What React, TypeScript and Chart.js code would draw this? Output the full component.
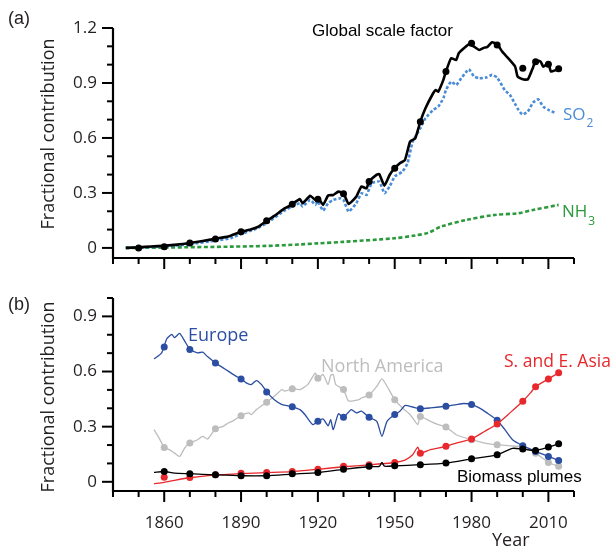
import React, { useEffect, useRef } from "react";
import { Chart, registerables } from "chart.js";

Chart.register(...registerables);

// ---------- axes ----------
const X_MIN = 1840;
const X_MAX = 2020;
const xMajorTicks = [1860, 1890, 1920, 1950, 1980, 2010];
const xMinorTicks = [1840, 1850, 1870, 1880, 1900, 1910, 1930, 1940, 1960, 1970, 1990, 2000, 2020];
const yMajorTicksA = [0, 0.3, 0.6, 0.9, 1.2];
const yMinorTicksA = [0.1, 0.2, 0.4, 0.5, 0.7, 0.8, 1.0, 1.1];
const yMajorTicksB = [0, 0.3, 0.6, 0.9];
const yMinorTicksB = [0.1, 0.2, 0.4, 0.5, 0.7, 0.8, 1.0];

// ---------- panel (a) ----------
const globalLineYears = [1845, 1850, 1855, 1860, 1865, 1870, 1875, 1880, 1885, 1890, 1894, 1897, 1900, 1903, 1907, 1909, 1910, 1913, 1914, 1917, 1919, 1920, 1922, 1924, 1926, 1928, 1930, 1932, 1935, 1937, 1939, 1940, 1943, 1944, 1946, 1948, 1950, 1952, 1954, 1956, 1958, 1960, 1962, 1965, 1966, 1967, 1969, 1970, 1972, 1974, 1975, 1977, 1979, 1981, 1983, 1985, 1986, 1988, 1990, 1992, 1994, 1997, 1998, 2000, 2002, 2004, 2005, 2007, 2008, 2010, 2011, 2013, 2014];
const globalLineValues = [0.000, 0.003, 0.008, 0.012, 0.018, 0.027, 0.038, 0.050, 0.062, 0.088, 0.102, 0.118, 0.148, 0.175, 0.216, 0.229, 0.240, 0.266, 0.244, 0.284, 0.262, 0.277, 0.235, 0.286, 0.289, 0.307, 0.298, 0.240, 0.280, 0.335, 0.325, 0.362, 0.400, 0.402, 0.340, 0.398, 0.435, 0.462, 0.480, 0.580, 0.598, 0.689, 0.762, 0.844, 0.862, 0.853, 0.917, 0.962, 1.035, 1.026, 1.062, 1.089, 1.111, 1.098, 1.080, 1.093, 1.095, 1.122, 1.111, 1.071, 1.040, 0.990, 0.935, 0.920, 0.920, 0.985, 1.022, 1.016, 0.989, 1.007, 0.962, 0.971, 0.975];

const globalDotYears = [1850, 1860, 1870, 1880, 1890, 1900, 1910, 1920, 1930, 1940, 1950, 1960, 1970, 1980, 1990, 2000, 2005, 2010, 2014];
const globalDotValues = [0.000, 0.007, 0.027, 0.049, 0.088, 0.148, 0.238, 0.265, 0.296, 0.362, 0.435, 0.689, 0.962, 1.117, 1.107, 0.980, 1.016, 1.002, 0.977];

const so2Years = [1845, 1850, 1860, 1870, 1880, 1886, 1890, 1896, 1900, 1907, 1910, 1913, 1914, 1917, 1919, 1920, 1922, 1924, 1926, 1929, 1930, 1932, 1935, 1937, 1939, 1941, 1944, 1946, 1948, 1950, 1953, 1955, 1957, 1960, 1962, 1965, 1967, 1969, 1970, 1972, 1974, 1976, 1978, 1979, 1981, 1983, 1986, 1988, 1990, 1993, 1995, 1998, 1999, 2000, 2002, 2004, 2006, 2008, 2010, 2013];
const so2Values = [0.000, 0.002, 0.008, 0.020, 0.040, 0.053, 0.076, 0.105, 0.135, 0.204, 0.226, 0.244, 0.226, 0.262, 0.235, 0.253, 0.204, 0.244, 0.262, 0.271, 0.262, 0.198, 0.244, 0.298, 0.289, 0.353, 0.362, 0.298, 0.335, 0.390, 0.416, 0.462, 0.580, 0.653, 0.708, 0.753, 0.771, 0.817, 0.862, 0.907, 0.889, 0.926, 0.962, 0.975, 0.935, 0.926, 0.931, 0.944, 0.930, 0.860, 0.835, 0.760, 0.740, 0.728, 0.744, 0.793, 0.811, 0.771, 0.753, 0.735];

const nh3Years = [1845, 1860, 1886, 1900, 1913, 1920, 1930, 1950, 1958, 1963, 1968, 1978, 1989, 1998, 2004, 2014];
const nh3Values = [0.000, 0.002, 0.007, 0.011, 0.019, 0.025, 0.033, 0.053, 0.068, 0.082, 0.116, 0.153, 0.180, 0.189, 0.207, 0.235];

// ---------- panel (b) ----------
const regionDotYears = [1860, 1870, 1880, 1890, 1900, 1910, 1920, 1930, 1940, 1950, 1960, 1970, 1980, 1990, 2000, 2005, 2010, 2014];
const europeDotValues = [0.733, 0.720, 0.647, 0.560, 0.489, 0.408, 0.329, 0.351, 0.351, 0.366, 0.398, 0.411, 0.420, 0.335, 0.196, 0.165, 0.138, 0.116];
const northAmericaDotValues = [0.187, 0.211, 0.288, 0.360, 0.433, 0.506, 0.563, 0.502, 0.472, 0.447, 0.355, 0.298, 0.229, 0.202, 0.189, 0.156, 0.105, 0.084];
const asiaDotValues = [0.025, 0.024, 0.038, 0.047, 0.051, 0.056, 0.069, 0.084, 0.093, 0.105, 0.156, 0.193, 0.233, 0.315, 0.438, 0.517, 0.560, 0.593];
const biomassDotValues = [0.056, 0.044, 0.038, 0.033, 0.033, 0.044, 0.051, 0.069, 0.084, 0.087, 0.093, 0.102, 0.125, 0.147, 0.178, 0.171, 0.189, 0.207];

const europeYears = [1856, 1859, 1861, 1863, 1864, 1866, 1868, 1870, 1873, 1875, 1877, 1880, 1883, 1885, 1888, 1890, 1892, 1894, 1896, 1898, 1900, 1903, 1906, 1908, 1910, 1913, 1915, 1918, 1920, 1922, 1924, 1925, 1926, 1928, 1930, 1933, 1935, 1937, 1940, 1943, 1945, 1947, 1950, 1952, 1954, 1957, 1960, 1964, 1970, 1974, 1977, 1980, 1983, 1986, 1990, 1993, 1996, 2000, 2003, 2010, 2014];
const europeValues = [0.669, 0.702, 0.778, 0.802, 0.784, 0.807, 0.765, 0.722, 0.702, 0.705, 0.680, 0.647, 0.620, 0.602, 0.575, 0.560, 0.538, 0.529, 0.551, 0.529, 0.489, 0.447, 0.420, 0.415, 0.408, 0.393, 0.365, 0.311, 0.329, 0.342, 0.305, 0.338, 0.284, 0.370, 0.351, 0.393, 0.375, 0.384, 0.351, 0.329, 0.247, 0.329, 0.366, 0.384, 0.415, 0.407, 0.398, 0.402, 0.411, 0.420, 0.426, 0.420, 0.402, 0.375, 0.335, 0.284, 0.229, 0.196, 0.178, 0.138, 0.116];

const northAmericaYears = [1856, 1858, 1860, 1862, 1864, 1866, 1868, 1870, 1873, 1875, 1877, 1880, 1883, 1885, 1887, 1890, 1893, 1894, 1896, 1900, 1903, 1906, 1907, 1910, 1913, 1916, 1919, 1920, 1922, 1924, 1925, 1926, 1927, 1930, 1932, 1936, 1937, 1940, 1943, 1945, 1947, 1950, 1953, 1956, 1959, 1960, 1964, 1967, 1970, 1974, 1980, 1985, 1990, 1995, 2000, 2005, 2010, 2014];
const northAmericaValues = [0.284, 0.238, 0.187, 0.175, 0.156, 0.138, 0.184, 0.211, 0.229, 0.247, 0.233, 0.288, 0.302, 0.320, 0.333, 0.360, 0.375, 0.365, 0.393, 0.433, 0.465, 0.502, 0.493, 0.506, 0.502, 0.529, 0.591, 0.560, 0.584, 0.529, 0.578, 0.584, 0.529, 0.502, 0.440, 0.447, 0.456, 0.472, 0.520, 0.560, 0.520, 0.447, 0.402, 0.366, 0.311, 0.355, 0.329, 0.311, 0.298, 0.256, 0.229, 0.211, 0.202, 0.196, 0.189, 0.156, 0.105, 0.084];

const asiaYears = [1856, 1860, 1864, 1870, 1880, 1890, 1900, 1910, 1920, 1930, 1940, 1950, 1954, 1957, 1959, 1960, 1964, 1970, 1974, 1980, 1985, 1990, 1995, 2000, 2003, 2005, 2010, 2014];
const asiaValues = [-0.010, -0.003, 0.008, 0.022, 0.036, 0.045, 0.050, 0.055, 0.068, 0.082, 0.092, 0.105, 0.118, 0.147, 0.189, 0.158, 0.175, 0.193, 0.211, 0.233, 0.274, 0.315, 0.375, 0.438, 0.484, 0.517, 0.560, 0.593];

const biomassYears = [1856, 1860, 1864, 1870, 1880, 1890, 1900, 1910, 1920, 1930, 1940, 1944, 1945, 1946, 1950, 1960, 1970, 1980, 1990, 1996, 2000, 2005, 2010, 2014];
const biomassValues = [0.051, 0.056, 0.047, 0.044, 0.038, 0.033, 0.033, 0.042, 0.050, 0.068, 0.082, 0.084, 0.105, 0.085, 0.087, 0.093, 0.102, 0.125, 0.147, 0.182, 0.178, 0.171, 0.189, 0.207];

// ---------- styling ----------
const BLACK = "#000000";
const SO2_BLUE = "#4a8cd6";
const NH3_GREEN = "#2b9a3c";
const EUROPE_BLUE = "#2b4ea2";
const NA_GREY = "#bdbdbd";
const ASIA_RED = "#e8282c";
const TEXT = "#231f20";
const MYRIAD = "'Open Sans', 'Noto Sans', sans-serif";
const ARIAL = "'Liberation Sans', Arial, sans-serif";

const pts = (xs: number[], ys: number[]) => xs.map((x, i) => ({ x, y: ys[i] }));
const fmt = (v: number) => String(Math.round(v * 10) / 10);

const lineDs = (xs: number[], ys: number[], color: string, width: number, extra: any = {}) => ({
  data: pts(xs, ys),
  borderColor: color,
  backgroundColor: color,
  borderWidth: width,
  pointRadius: 0,
  fill: false,
  ...extra,
});
const dotDs = (xs: number[], ys: number[], color: string, r: number) => ({
  data: pts(xs, ys),
  showLine: false,
  borderColor: color,
  backgroundColor: color,
  pointBackgroundColor: color,
  pointBorderWidth: 0,
  pointRadius: r,
  pointHoverRadius: r,
});

const axesPlugin = {
  id: "manualAxes",
  afterDraw(chart: any, _args: any, opts: any) {
    const { ctx, chartArea, scales } = chart;
    const xs = scales.x;
    const ys = scales.y;
    ctx.save();
    ctx.strokeStyle = "#000";
    ctx.lineWidth = 2.2;
    ctx.lineCap = "butt";
    ctx.beginPath();
    ctx.moveTo(chartArea.left, chartArea.top);
    ctx.lineTo(chartArea.left, chartArea.bottom);
    ctx.lineTo(chartArea.right, chartArea.bottom);
    ctx.stroke();
    ctx.lineWidth = 2;
    const drawX = (vals: number[], len: number) => {
      vals.forEach((v) => {
        const px = xs.getPixelForValue(v);
        ctx.beginPath();
        ctx.moveTo(px, chartArea.bottom);
        ctx.lineTo(px, chartArea.bottom + len);
        ctx.stroke();
      });
    };
    const drawY = (vals: number[], len: number) => {
      vals.forEach((v) => {
        const py = ys.getPixelForValue(v);
        ctx.beginPath();
        ctx.moveTo(chartArea.left - len, py);
        ctx.lineTo(chartArea.left, py);
        ctx.stroke();
      });
    };
    drawX(opts.xMajor, 11);
    drawX(opts.xMinor, 6);
    drawY(opts.yMajor, 11);
    drawY(opts.yMinor, 6);
    ctx.restore();
  },
};

const labelsPlugin = {
  id: "textLabels",
  afterDraw(chart: any, _args: any, opts: any) {
    const { ctx } = chart;
    ctx.save();
    (opts.items || []).forEach((it: any) => {
      ctx.fillStyle = it.color;
      ctx.font = it.font;
      ctx.textBaseline = "alphabetic";
      ctx.textAlign = "left";
      if (it.rotate) {
        ctx.save();
        ctx.translate(it.x, it.y);
        ctx.rotate(-Math.PI / 2);
        ctx.textAlign = "center";
        ctx.textBaseline = "middle";
        ctx.fillText(it.text, 0, 0);
        ctx.restore();
        return;
      }
      ctx.fillText(it.text, it.x, it.y);
      if (it.sub) {
        const w = ctx.measureText(it.text).width;
        ctx.font = it.subFont;
        ctx.fillText(it.sub, it.x + w + 1, it.y + it.subDy);
      }
    });
    ctx.restore();
  },
};

const fixYAxis = (s: any) => {
  s.width = 113;
  s.paddingTop = 0;
  s.paddingBottom = 0;
};

function configA(): any {
  return {
    type: "line",
    data: {
      datasets: [
        dotDs(globalDotYears, globalDotValues, BLACK, 3.5),
        lineDs(globalLineYears, globalLineValues, BLACK, 2.6, { tension: 0.15 }),
        lineDs(so2Years, so2Values, SO2_BLUE, 2.6, { borderDash: [3, 2], tension: 0.15 }),
        lineDs(nh3Years, nh3Values, NH3_GREEN, 2.6, { borderDash: [4, 2.5], tension: 0.3 }),
      ],
    },
    options: {
      animation: false,
      responsive: false,
      events: [],
      layout: { padding: { left: 0, right: 38, top: 28, bottom: 0 } },
      plugins: {
        legend: { display: false },
        tooltip: { enabled: false },
        manualAxes: { xMajor: xMajorTicks, xMinor: xMinorTicks, yMajor: yMajorTicksA, yMinor: yMinorTicksA },
        textLabels: {
          items: [
            { text: "(a)", x: 8, y: 24, color: TEXT, font: `18px ${ARIAL}` },
            { text: "Fractional contribution", x: 49, y: 134, color: TEXT, font: `18px ${MYRIAD}`, rotate: true },
            { text: "Global scale factor", x: 312, y: 36, color: BLACK, font: `17px ${ARIAL}` },
            { text: "SO", sub: "2", x: 563, y: 120, subDy: 7, color: SO2_BLUE, font: `17px ${MYRIAD}`, subFont: `12px ${MYRIAD}` },
            { text: "NH", sub: "3", x: 562, y: 217, subDy: 8, color: NH3_GREEN, font: `17px ${MYRIAD}`, subFont: `12px ${MYRIAD}` },
          ],
        },
      },
      scales: {
        x: {
          type: "linear",
          min: X_MIN,
          max: X_MAX,
          afterBuildTicks: (s: any) => { s.ticks = xMajorTicks.map((v) => ({ value: v })); },
          afterFit: (s: any) => { s.height = 14; s.paddingLeft = 0; s.paddingRight = 0; },
          grid: { display: false, drawTicks: false },
          border: { display: false },
          ticks: { display: false },
        },
        y: {
          type: "linear",
          min: -0.055,
          max: 1.2,
          afterBuildTicks: (s: any) => { s.ticks = yMajorTicksA.map((v) => ({ value: v })); },
          afterFit: fixYAxis,
          grid: { display: false, drawTicks: false },
          border: { display: false },
          ticks: { padding: 16, color: TEXT, font: { family: MYRIAD, size: 17 }, callback: (v: number) => fmt(v) },
        },
      },
    },
    plugins: [axesPlugin, labelsPlugin],
  };
}

function configB(): any {
  return {
    type: "line",
    data: {
      datasets: [
        dotDs(regionDotYears, biomassDotValues, BLACK, 3.5),
        lineDs(biomassYears, biomassValues, BLACK, 1.3, { tension: 0.2 }),
        dotDs(regionDotYears, asiaDotValues, ASIA_RED, 3.5),
        lineDs(asiaYears, asiaValues, ASIA_RED, 1.3, { tension: 0.2 }),
        dotDs(regionDotYears, europeDotValues, EUROPE_BLUE, 3.5),
        lineDs(europeYears, europeValues, EUROPE_BLUE, 1.3, { tension: 0.2 }),
        dotDs(regionDotYears, northAmericaDotValues, NA_GREY, 3.5),
        lineDs(northAmericaYears, northAmericaValues, NA_GREY, 1.3, { tension: 0.2 }),
      ],
    },
    options: {
      animation: false,
      responsive: false,
      events: [],
      layout: { padding: { left: 0, right: 38, top: 26, bottom: 0 } },
      plugins: {
        legend: { display: false },
        tooltip: { enabled: false },
        manualAxes: { xMajor: xMajorTicks, xMinor: xMinorTicks, yMajor: yMajorTicksB, yMinor: yMinorTicksB },
        textLabels: {
          items: [
            { text: "(b)", x: 8, y: 38, color: TEXT, font: `18px ${ARIAL}` },
            { text: "Fractional contribution", x: 49, y: 125, color: TEXT, font: `18px ${MYRIAD}`, rotate: true },
            { text: "Europe", x: 188, y: 69, color: EUROPE_BLUE, font: `18px ${MYRIAD}` },
            { text: "North America", x: 321, y: 100, color: NA_GREY, font: `18px ${MYRIAD}` },
            { text: "S. and E. Asia", x: 504, y: 95, color: ASIA_RED, font: `17.5px ${MYRIAD}` },
            { text: "Biomass plumes", x: 457, y: 210, color: BLACK, font: `17px ${ARIAL}` },
            { text: "Year", x: 492, y: 274, color: TEXT, font: `18px ${MYRIAD}` },
          ],
        },
      },
      scales: {
        x: {
          type: "linear",
          min: X_MIN,
          max: X_MAX,
          afterBuildTicks: (s: any) => { s.ticks = xMajorTicks.map((v) => ({ value: v })); },
          afterFit: (s: any) => { s.height = 58; s.paddingLeft = 0; s.paddingRight = 0; },
          grid: { display: false, drawTicks: false },
          border: { display: false },
          ticks: { padding: 22, autoSkip: false, maxRotation: 0, color: TEXT, font: { family: MYRIAD, size: 17 }, callback: (v: number) => String(v) },
        },
        y: {
          type: "linear",
          min: -0.05,
          max: 1.0,
          afterBuildTicks: (s: any) => { s.ticks = yMajorTicksB.map((v) => ({ value: v })); },
          afterFit: fixYAxis,
          grid: { display: false, drawTicks: false },
          border: { display: false },
          ticks: { padding: 16, color: TEXT, font: { family: MYRIAD, size: 17 }, callback: (v: number) => fmt(v) },
        },
      },
    },
    plugins: [axesPlugin, labelsPlugin],
  };
}

export default function App() {
  const refA = useRef<HTMLCanvasElement>(null);
  const refB = useRef<HTMLCanvasElement>(null);
  useEffect(() => {
    const a = new Chart(refA.current as HTMLCanvasElement, configA());
    const b = new Chart(refB.current as HTMLCanvasElement, configB());
    return () => {
      a.destroy();
      b.destroy();
    };
  }, []);
  return (
    <div style={{ position: "absolute", left: 0, top: 0, width: 612, height: 549, background: "#fff", overflow: "hidden" }}>
      <canvas ref={refA} width={612} height={272} style={{ position: "absolute", left: 0, top: 0 }} />
      <canvas ref={refB} width={612} height={277} style={{ position: "absolute", left: 0, top: 272 }} />
    </div>
  );
}
